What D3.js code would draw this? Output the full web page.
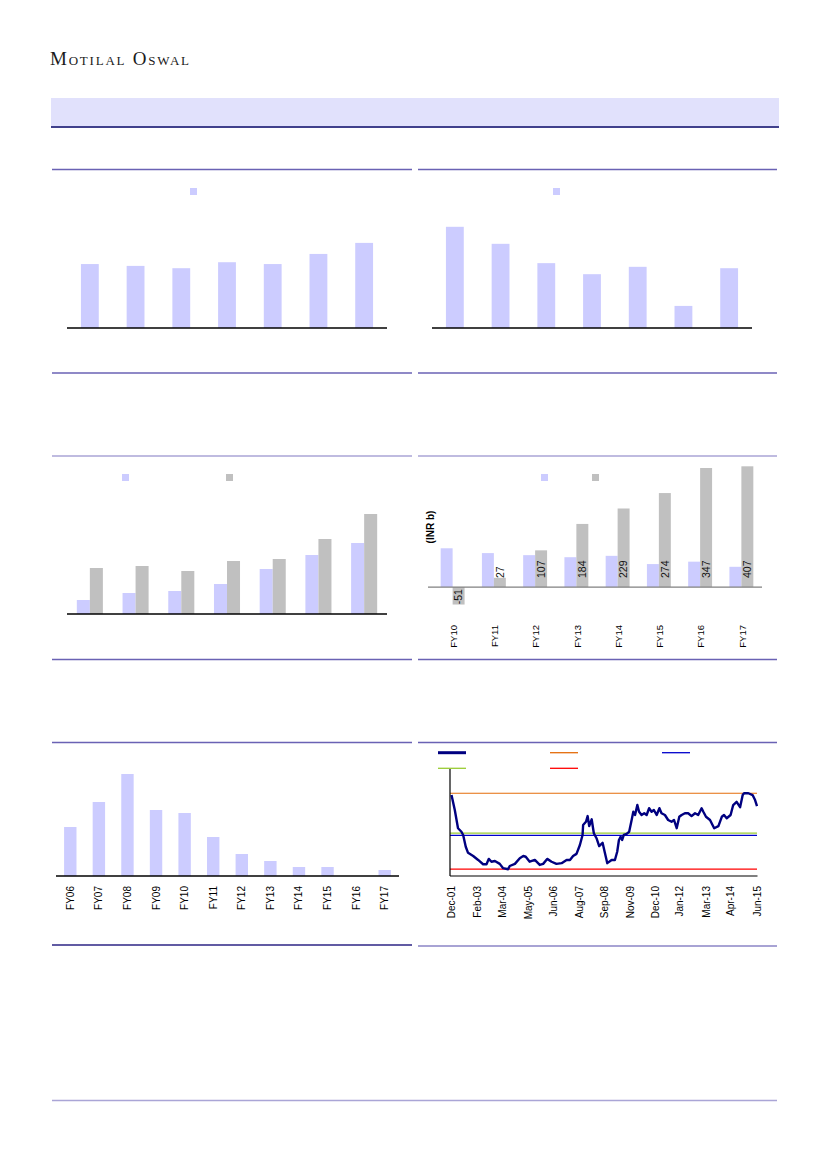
<!DOCTYPE html>
<html><head><meta charset="utf-8">
<script src="https://cdn.jsdelivr.net/npm/d3@7"></script>
<style>body{margin:0;background:#fff}svg{display:block}</style>
</head><body><svg id="c" width="827" height="1169"></svg>
<script>
// ---------- data ----------
const c1Cats = ["FY11","FY12","FY13","FY14","FY15","FY16","FY17"];
const c1Vals = [13.9,13.5,13.0,14.3,13.9,16.1,18.5];
const c2Cats = ["FY11","FY12","FY13","FY14","FY15","FY16","FY17"];
const c2Vals = [22.0,18.3,14.1,11.7,13.3,4.8,13.0];
const c3Cats = ["FY11","FY12","FY13","FY14","FY15","FY16","FY17"];
const c3SeriesA = [140,210,230,300,450,590,710];
const c3SeriesB = [460,480,430,530,550,750,1000];
const c4Cats = ["FY10","FY11","FY12","FY13","FY14","FY15","FY16","FY17"];
const c4SeriesA = [113,99,93,87,91,67,74,59];
const c4SeriesB = [-51,27,107,184,229,274,347,407];
const c5Cats = ["FY06","FY07","FY08","FY09","FY10","FY11","FY12","FY13","FY14","FY15","FY16","FY17"];
const c5Vals = [49,74,102,66,63,39,22,15,9,9,0,6];
const c6Dates = ["2001-12-01","2002-01-23","2002-03-16","2002-05-10","2002-06-07","2002-07-19","2002-08-25","2002-11-16","2003-02-04","2003-04-25","2003-06-19","2003-07-25","2003-09-07","2003-11-01","2004-01-19","2004-03-13","2004-06-01","2004-06-28","2004-09-19","2004-12-07","2005-02-01","2005-03-13","2005-05-16","2005-08-07","2005-10-25","2005-12-19","2006-02-22","2006-05-04","2006-07-22","2006-10-13","2007-01-01","2007-02-25","2007-04-16","2007-06-10","2007-08-04","2007-09-16","2007-09-25","2007-11-10","2007-12-07","2008-01-01","2008-02-10","2008-03-16","2008-04-28","2008-06-10","2008-08-04","2008-09-10","2008-10-19","2008-12-28","2009-02-19","2009-03-28","2009-04-25","2009-05-22","2009-06-16","2009-07-13","2009-08-28","2009-10-07","2009-11-16","2009-12-13","2010-01-10","2010-02-16","2010-03-16","2010-04-25","2010-06-07","2010-07-16","2010-08-25","2010-10-04","2010-11-10","2010-12-25","2011-02-07","2011-03-13","2011-05-07","2011-06-28","2011-08-22","2011-10-01","2011-11-13","2011-12-25","2012-02-01","2012-03-25","2012-05-16","2012-07-10","2012-09-04","2012-10-25","2012-12-19","2013-01-16","2013-02-28","2013-05-04","2013-07-10","2013-09-16","2013-11-10","2013-12-16","2014-01-28","2014-04-01","2014-05-13","2014-07-07","2014-09-01","2014-10-13","2014-11-04","2015-01-13","2015-03-22","2015-05-01","2015-06-01"];
const c6Vals = [22.7,18.5,13.4,12.4,11.5,8.2,6.5,5.6,4.5,3.3,3.3,4.8,4.0,4.2,3.4,2.2,1.9,2.8,3.4,5.0,5.6,5.4,4.0,4.5,3.1,3.4,4.8,4.0,3.4,3.6,4.5,4.5,5.6,6.2,8.7,11.5,14.3,15.2,16.8,14.0,15.9,12.0,10.6,8.4,9.3,6.5,3.6,4.5,4.5,6.8,10.1,11.0,10.1,11.5,11.8,12.4,15.7,18.0,17.1,19.9,18.0,17.1,17.6,17.1,19.0,18.0,18.5,17.1,19.0,17.6,17.1,15.7,15.2,15.7,13.4,16.6,17.1,17.6,17.6,16.8,17.6,17.1,19.0,18.0,16.6,15.7,13.4,14.0,16.6,17.1,16.2,17.1,19.9,20.8,19.3,22.7,23.2,23.2,22.7,21.3,19.6];
const c6Peak = 23.2, c6Avg = 12.0, c6Median = 11.4, c6Min = 1.9;
const c6TickLabels = ["Dec-01","Feb-03","Mar-04","May-05","Jun-06","Aug-07","Sep-08","Nov-09","Dec-10","Jan-12","Mar-13","Apr-14","Jun-15"];

// ---------- styles ----------
const LAV = "#ccccff", GREY = "#c0c0c0";
const SANS = "'Liberation Sans',Arial,sans-serif";
const svg = d3.select("#c");
svg.append("rect").attr("width",827).attr("height",1169).attr("fill","#fff");

// header
svg.append("text").attr("x",50).attr("y",64.5)
  .attr("font-family","'Liberation Serif','DejaVu Serif',serif")
  .attr("font-size",19).attr("font-variant","small-caps")
  .attr("textLength",139).attr("lengthAdjust","spacing")
  .attr("fill","#1a1a1a").text("Motilal Oswal");
svg.append("rect").attr("x",51).attr("y",98).attr("width",728).attr("height",28).attr("fill","#e1e1fc");
svg.append("line").attr("x1",51).attr("x2",779).attr("y1",127).attr("y2",127).attr("stroke","#000066").attr("stroke-width",1.3);

// dividers
function hline(x1,x2,y,color,w){
  svg.append("line").attr("x1",x1).attr("x2",x2).attr("y1",y).attr("y2",y).attr("stroke",color).attr("stroke-width",w);
}
const DARK = "#6a62b4", LIGHT = "#aaa5d6";
[[169.5,DARK],[373,DARK],[456,LIGHT],[659.5,DARK],[742.5,DARK]].forEach(([y,c])=>{
  hline(52,412,y,c,1.5); hline(418,777,y,c,1.5);
});
hline(52,412,945,"#2c2585",1.3);
hline(418,777,946,"#8b84c6",1.3);
hline(52,777,1100.5,LIGHT,1.5);

function legendSq(x,y,c){ svg.append("rect").attr("x",x).attr("y",y).attr("width",7).attr("height",7).attr("fill",c); }

// ---------- single bar chart ----------
function singleBar(cats, vals, x0, x1, base, yTop, dom, pad){
  const x = d3.scaleBand().domain(cats).range([x0,x1]).paddingInner(pad).paddingOuter(pad/2);
  const y = d3.scaleLinear().domain(dom).range([base,yTop]);
  const g = svg.append("g");
  g.selectAll("rect").data(vals).join("rect")
    .attr("x",(d,i)=>x(cats[i])).attr("width",x.bandwidth())
    .attr("y",d=>y(d)).attr("height",d=>y(0)-y(d)).attr("fill",LAV);
  g.append("line").attr("x1",x0).attr("x2",x1).attr("y1",y(0)).attr("y2",y(0)).attr("stroke","#000").attr("stroke-width",1.3);
  return {x,y};
}
singleBar(c1Cats,c1Vals,67,387,328,190,[0,30],0.61);
legendSq(190,188,LAV);
singleBar(c2Cats,c2Vals,432,752,328,190,[0,30],0.61);
legendSq(553,188,LAV);

// ---------- chart 3 grouped ----------
(function(){
  const x = d3.scaleBand().domain(c3Cats).range([67,387]).paddingInner(0.43).paddingOuter(0.215);
  const xs = d3.scaleBand().domain(["a","b"]).range([0,x.bandwidth()]);
  const y = d3.scaleLinear().domain([0,1340]).range([614,480]);
  const g = svg.append("g");
  g.selectAll(".a").data(c3SeriesA).join("rect")
    .attr("x",(d,i)=>x(c3Cats[i])+xs("a")).attr("width",xs.bandwidth())
    .attr("y",d=>y(d)).attr("height",d=>y(0)-y(d)).attr("fill",LAV);
  g.selectAll(".b").data(c3SeriesB).join("rect")
    .attr("x",(d,i)=>x(c3Cats[i])+xs("b")).attr("width",xs.bandwidth())
    .attr("y",d=>y(d)).attr("height",d=>y(0)-y(d)).attr("fill",GREY);
  g.append("line").attr("x1",67).attr("x2",387).attr("y1",y(0)).attr("y2",y(0)).attr("stroke","#000").attr("stroke-width",1.3);
  legendSq(122,474,LAV); legendSq(226,474,GREY);
})();

// ---------- chart 4 grouped with labels ----------
(function(){
  const x = d3.scaleBand().domain(c4Cats).range([432,762]).paddingInner(0.42).paddingOuter(0.21);
  const xs = d3.scaleBand().domain(["a","b"]).range([0,x.bandwidth()]);
  const y = d3.scaleLinear().domain([-150,352]).range([638.5,466.3]).clamp(true);
  const g = svg.append("g");
  g.selectAll(".a").data(c4SeriesA).join("rect")
    .attr("x",(d,i)=>x(c4Cats[i])+xs("a")).attr("width",xs.bandwidth())
    .attr("y",d=>y(Math.max(0,d))).attr("height",d=>Math.abs(y(0)-y(d))).attr("fill",LAV);
  g.selectAll(".b").data(c4SeriesB).join("rect")
    .attr("x",(d,i)=>x(c4Cats[i])+xs("b")).attr("width",xs.bandwidth())
    .attr("y",d=>y(Math.max(0,d))).attr("height",d=>Math.abs(y(0)-y(d))).attr("fill",GREY);
  g.append("line").attr("x1",428).attr("x2",762).attr("y1",y(0)).attr("y2",y(0)).attr("stroke","#808080").attr("stroke-width",1.2);
  g.selectAll(".lbl").data(c4SeriesB).join("text")
    .attr("transform",(d,i)=>{
      const cx = x(c4Cats[i])+xs("b")+xs.bandwidth()/2;
      const cy = d>=0 ? y(0)-9 : y(0)+2;
      return `translate(${cx},${cy}) rotate(-90)`;
    })
    .attr("text-anchor",d=>d>=0?"start":"end").attr("dy","0.35em")
    .attr("font-family",SANS).attr("font-size",10.5).attr("fill","#111")
    .text(d=>d);
  g.selectAll(".xl").data(c4Cats).join("text")
    .attr("transform",d=>`translate(${x(d)+x.bandwidth()/2+1},625) rotate(-90)`)
    .attr("text-anchor","end").attr("dy","0.35em")
    .attr("font-family",SANS).attr("font-size",9.5).attr("fill","#000")
    .text(d=>d);
  g.append("text").attr("transform","translate(430,527) rotate(-90)").attr("text-anchor","middle").attr("dy","0.35em")
    .attr("font-family",SANS).attr("font-size",10).attr("font-weight","bold").text("(INR b)");
  legendSq(541,474,LAV); legendSq(592,474,GREY);
})();

// ---------- chart 5 ----------
(function(){
  const r = singleBar(c5Cats,c5Vals,56,399,876,766,[0,110],0.566);
  svg.append("g").selectAll("text").data(c5Cats).join("text")
    .attr("transform",d=>`translate(${r.x(d)+r.x.bandwidth()/2},886) rotate(-90)`)
    .attr("text-anchor","end").attr("dy","0.35em")
    .attr("font-family",SANS).attr("font-size",10).attr("fill","#000")
    .text(d=>d);
})();

// ---------- chart 6 line ----------
(function(){
  const parse = d3.timeParse("%Y-%m-%d");
  const tparse = d3.timeParse("%b-%y");
  const data = c6Dates.map((d,i)=>({d:parse(d),v:c6Vals[i]}));
  const x = d3.scaleTime().domain([parse("2001-12-01"),parse("2015-06-01")]).range([451.5,757]);
  const y = d3.scaleLinear().domain([0,30]).range([876,769]);
  const g = svg.append("g");
  const ref = [[c6Peak,"#e46c0a"],[c6Avg,"#99cc33"],[c6Median,"#0000cc"],[c6Min,"#ff0000"]];
  ref.forEach(([v,c])=>{
    g.append("line").attr("x1",450).attr("x2",757).attr("y1",y(v)).attr("y2",y(v)).attr("stroke",c).attr("stroke-width",1.2);
  });
  g.append("path").datum(data).attr("fill","none").attr("stroke","#000080").attr("stroke-width",2.4)
    .attr("stroke-linejoin","round")
    .attr("d",d3.line().x(d=>x(d.d)).y(d=>y(d.v)));
  g.append("line").attr("x1",450).attr("x2",450).attr("y1",769).attr("y2",876).attr("stroke","#000").attr("stroke-width",1.2);
  g.append("line").attr("x1",450).attr("x2",757.5).attr("y1",876).attr("y2",876).attr("stroke","#000").attr("stroke-width",1.2);
  g.selectAll(".xl").data(c6TickLabels).join("text")
    .attr("transform",d=>`translate(${x(tparse(d))},886) rotate(-90)`)
    .attr("text-anchor","end").attr("dy","0.35em")
    .attr("font-family",SANS).attr("font-size",10).attr("fill","#000")
    .text(d=>d);
  const leg = [[438,752.7,"#000080",3],[550,752.7,"#e46c0a",1.3],[662,752.7,"#0000cc",1.3],[438,768.3,"#99cc33",1.3],[550,768.3,"#ff0000",1.3]];
  leg.forEach(([lx,ly,c,w])=>{
    g.append("line").attr("x1",lx).attr("x2",lx+28).attr("y1",ly).attr("y2",ly).attr("stroke",c).attr("stroke-width",w);
  });
})();
</script></body></html>
